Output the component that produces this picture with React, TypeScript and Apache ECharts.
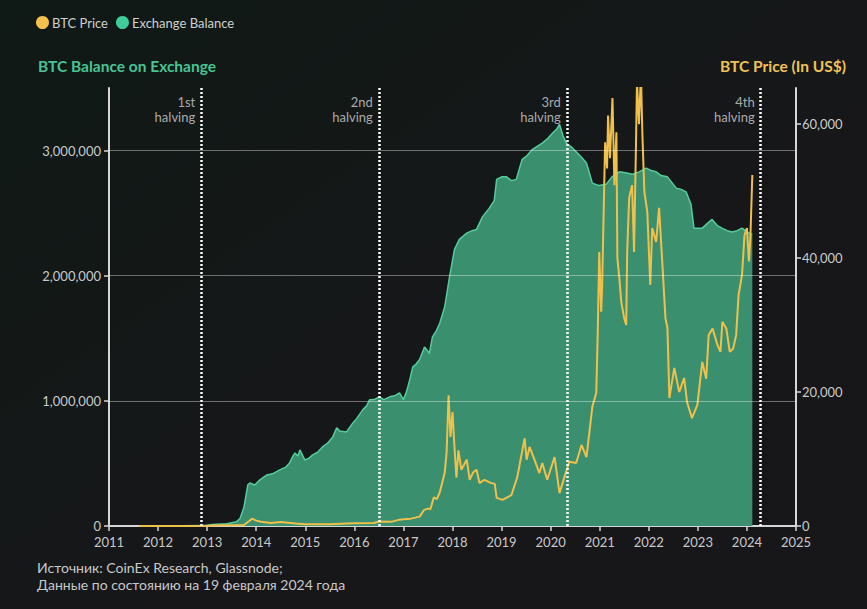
import React, { useEffect, useRef } from "react";
import * as echarts from "echarts";

// ---- data ----
const balanceYears = [
  2011.62, 2012.5, 2012.95, 2013.1, 2013.4, 2013.6, 2013.67, 2013.75, 2013.83, 2013.87, 2013.97,
  2014.05, 2014.13, 2014.22, 2014.35, 2014.48, 2014.6, 2014.68, 2014.75, 2014.79, 2014.85, 2014.89,
  2014.99, 2015.07, 2015.15, 2015.25, 2015.35, 2015.45, 2015.56, 2015.64, 2015.7, 2015.84, 2015.97,
  2016.05, 2016.17, 2016.25, 2016.31, 2016.4, 2016.51, 2016.6, 2016.72, 2016.82, 2016.92, 2017.0,
  2017.06, 2017.13, 2017.19, 2017.25, 2017.33, 2017.43, 2017.53, 2017.59, 2017.67, 2017.74, 2017.84,
  2017.94, 2018.04, 2018.14, 2018.29, 2018.4, 2018.49, 2018.61, 2018.75, 2018.85, 2018.9, 2019.0,
  2019.1, 2019.2, 2019.3, 2019.42, 2019.52, 2019.63, 2019.75, 2019.83, 2019.95, 2020.04, 2020.12,
  2020.18, 2020.25, 2020.32, 2020.42, 2020.52, 2020.62, 2020.73, 2020.85, 2020.99, 2021.13, 2021.25,
  2021.4, 2021.55, 2021.66, 2021.8, 2021.95, 2022.05, 2022.15, 2022.25, 2022.38, 2022.48, 2022.56,
  2022.66, 2022.76, 2022.86, 2022.92, 2023.09, 2023.2, 2023.29, 2023.4, 2023.49, 2023.6, 2023.7,
  2023.8, 2023.9, 2024.0, 2024.11,
];
const balanceValues = [
  0, 1000, 3000, 12000, 18000, 35000, 60000, 150000, 330000, 344000, 328000,
  360000, 384000, 408000, 420000, 448000, 470000, 504000, 560000, 584000, 560000, 608000,
  528000, 540000, 568000, 590000, 632000, 660000, 712000, 784000, 760000, 752000, 824000,
  860000, 928000, 960000, 1008000, 1010000, 1032000, 1010000, 1032000, 1040000, 1064000, 1010000,
  1070000, 1170000, 1272000, 1290000, 1330000, 1430000, 1380000, 1510000, 1560000, 1620000, 1750000,
  1990000, 2210000, 2290000, 2340000, 2360000, 2370000, 2470000, 2540000, 2600000, 2770000, 2790000,
  2790000, 2760000, 2770000, 2930000, 2960000, 3010000, 3040000, 3060000, 3100000, 3140000, 3170000,
  3210000, 3120000, 3060000, 3030000, 2990000, 2950000, 2900000, 2740000, 2720000, 2730000, 2790000,
  2830000, 2820000, 2810000, 2830000, 2860000, 2840000, 2830000, 2800000, 2790000, 2740000, 2700000,
  2690000, 2670000, 2570000, 2380000, 2380000, 2420000, 2450000, 2400000, 2380000, 2360000, 2350000,
  2360000, 2380000, 2350000, 2330000,
];

const priceYears = [
  2011.62, 2012.0, 2012.5, 2012.9, 2013.3, 2013.5, 2013.75, 2013.85, 2013.92, 2014.0, 2014.1,
  2014.3, 2014.5, 2014.8, 2015.0, 2015.5, 2015.85, 2016.0, 2016.4, 2016.5, 2016.75, 2016.92,
  2017.0, 2017.15, 2017.33, 2017.42, 2017.5, 2017.55, 2017.62, 2017.68, 2017.74, 2017.84, 2017.88,
  2017.92, 2017.96, 2018.0, 2018.04, 2018.08, 2018.12, 2018.18, 2018.29, 2018.35, 2018.42, 2018.49,
  2018.55, 2018.65, 2018.79, 2018.86, 2018.9, 2019.02, 2019.2, 2019.32, 2019.47, 2019.51, 2019.57,
  2019.67, 2019.77, 2019.83, 2019.93, 2020.08, 2020.18, 2020.28, 2020.38, 2020.52, 2020.63, 2020.73,
  2020.85, 2020.93, 2020.96, 2020.99, 2021.03, 2021.05, 2021.11, 2021.15, 2021.17, 2021.21, 2021.26,
  2021.3, 2021.34, 2021.36, 2021.4, 2021.44, 2021.5, 2021.54, 2021.56, 2021.6, 2021.66, 2021.7,
  2021.74, 2021.76, 2021.8, 2021.84, 2021.87, 2021.91, 2021.97, 2022.03, 2022.07, 2022.15, 2022.21,
  2022.27, 2022.34, 2022.38, 2022.42, 2022.52, 2022.62, 2022.72, 2022.78, 2022.88, 2022.99, 2023.09,
  2023.17, 2023.22, 2023.3, 2023.4, 2023.46, 2023.5, 2023.58, 2023.65, 2023.72, 2023.78, 2023.83,
  2023.9, 2023.95, 2024.0, 2024.04, 2024.07, 2024.11,
];
const priceValues = [
  10, 5, 7, 12, 100, 100, 150, 700, 1100, 800, 650,
  450, 600, 380, 250, 260, 380, 420, 450, 680, 620, 950,
  1000, 1100, 1400, 2400, 2600, 2500, 4300, 4000, 5000, 7900, 11000,
  19500, 13300, 17000, 11800, 7200, 11300, 8400, 9900, 6900, 8000, 8400,
  6400, 6900, 6400, 6300, 4200, 3900, 4600, 7300, 13100, 9900, 11800,
  9900, 7900, 9400, 6900, 10300, 4900, 7300, 9600, 9400, 12100, 10300,
  17800, 19900, 29000, 40900, 32000, 36000, 57300, 53400, 61300, 54900, 63900,
  50900, 58800, 40000, 37000, 33400, 31000, 30000, 40900, 49000, 50900, 40900,
  57300, 66500, 60000, 67500, 58400, 49900, 46900, 36000, 44500, 42400, 47500,
  40000, 31000, 29600, 19100, 23600, 20000, 22100, 18500, 16100, 18100, 24500,
  22000, 28500, 29500, 27000, 26000, 30500, 29500, 26000, 26500, 28500, 34500,
  37500, 43400, 44500, 39500, 43000, 52400,
];

const halvingYears = [2012.88, 2016.5, 2020.33, 2024.28];
const halvingLabels = ["1st\nhalving", "2nd\nhalving", "3rd\nhalving", "4th\nhalving"];
const halvingLabelLevel = 3330000;

const yearMin = 2011;
const yearMax = 2025;
const balanceTicks = [0, 1000000, 2000000, 3000000];
const balanceGridLines = [1000000, 2000000, 3000000];
const priceTicks = [0, 20000, 40000, 60000];
const balanceMax = 3500000;
const priceMax = 65400;

const FONT = 'Lato, "Noto Sans", sans-serif';
const AXIS_COLOR = "#d6d6d6";
const LABEL_COLOR = "#c9c9c9";

export default function App() {
  const ref = useRef<HTMLDivElement>(null);

  useEffect(() => {
    document.body.style.margin = "0";
    if (!ref.current) return;
    const chart = echarts.init(ref.current, undefined, { renderer: "svg" });

    const fmt = (v: number) => Number(v).toLocaleString("en-US");

    const option: any = {
      animation: false,
      backgroundColor: {
        type: "linear",
        x: 0,
        y: 0,
        x2: 0.6,
        y2: 0.6,
        colorStops: [
          { offset: 0, color: "#0f1915" },
          { offset: 1, color: "#171719" },
        ],
      },
      textStyle: { fontFamily: FONT },
      legend: {
        data: ["BTC Price", "Exchange Balance"],
        left: 31,
        top: 11,
        icon: "circle",
        itemWidth: 13,
        itemHeight: 13,
        itemGap: 8,
        itemStyle: { borderWidth: 0 },
        textStyle: { color: "#cfcfcf", fontSize: 13, fontFamily: FONT, padding: [0, 0, 0, -2] },
      },
      grid: { left: 109, right: 71, top: 88, bottom: 83 },
      xAxis: {
        type: "value",
        min: yearMin,
        max: yearMax,
        interval: 1,
        axisLine: { show: true, lineStyle: { color: AXIS_COLOR, width: 2 } },
        axisTick: { show: true, length: 5, lineStyle: { color: AXIS_COLOR, width: 1.5 } },
        axisLabel: { color: LABEL_COLOR, fontSize: 13, lineHeight: 13, margin: 9, formatter: (v: number) => String(v) },
        splitLine: { show: false },
      },
      yAxis: [
        {
          type: "value",
          position: "left",
          min: 0,
          max: balanceMax,
          axisLine: { show: true, lineStyle: { color: AXIS_COLOR, width: 2 } },
          axisTick: { show: true, length: 5, customValues: balanceTicks, lineStyle: { color: AXIS_COLOR, width: 1.5 } },
          axisLabel: { color: LABEL_COLOR, fontSize: 13, lineHeight: 12, margin: 8, customValues: balanceTicks, formatter: fmt },
          splitLine: { show: false },
        },
        {
          type: "value",
          position: "right",
          min: 0,
          max: priceMax,
          axisLine: { show: true, lineStyle: { color: AXIS_COLOR, width: 2 } },
          axisTick: { show: true, length: 5, customValues: priceTicks, lineStyle: { color: AXIS_COLOR, width: 1.5 } },
          axisLabel: { color: LABEL_COLOR, fontSize: 13, lineHeight: 12, margin: 6, customValues: priceTicks, formatter: fmt },
          splitLine: { show: false },
        },
      ],
      series: [
        {
          name: "Exchange Balance",
          type: "line",
          yAxisIndex: 0,
          showSymbol: false,
          symbol: "none",
          data: balanceYears.map((y, i) => [y, balanceValues[i]]),
          itemStyle: { color: "#3fcc9b" },
          lineStyle: { color: "#55cc9f", width: 1.5 },
          areaStyle: { color: "#3a8f6e", opacity: 1 },
          z: 2,
          markLine: {
            silent: true,
            symbol: "none",
            label: { show: false },
            lineStyle: { color: "rgba(255,255,255,0.38)", width: 1, type: "solid" },
            data: balanceGridLines.map((v) => ({ yAxis: v })),
          },
        },
        {
          name: "BTC Price",
          type: "line",
          yAxisIndex: 1,
          showSymbol: false,
          symbol: "none",
          clip: true,
          data: priceYears.map((y, i) => [y, priceValues[i]]),
          itemStyle: { color: "#f3c14c" },
          lineStyle: { color: "#f0c04c", width: 2 },
          z: 3,
        },
        {
          name: "halvings",
          type: "scatter",
          yAxisIndex: 0,
          symbolSize: 0,
          silent: true,
          data: halvingYears.map((y) => [y, halvingLabelLevel]),
          label: {
            show: true,
            position: "left",
            distance: 6,
            align: "right",
            color: "#d2d2d2",
            fontSize: 13,
            lineHeight: 15,
            fontFamily: FONT,
            formatter: (p: any) => halvingLabels[p.dataIndex],
          },
          z: 5,
          markLine: {
            silent: true,
            symbol: "none",
            label: { show: false },
            lineStyle: { color: "#ffffff", width: 2.5, type: [2, 2] },
            data: halvingYears.map((y) => ({ xAxis: y })),
          },
        },
      ],
      graphic: [
        {
          type: "text",
          left: 38,
          top: 58,
          style: { text: "BTC Balance on Exchange", fill: "#48c394", font: `bold 15.5px ${FONT}` },
        },
        {
          type: "text",
          right: 21,
          top: 58,
          style: { text: "BTC Price (In US$)", fill: "#efc257", font: `bold 15.5px ${FONT}` },
        },
        {
          type: "text",
          left: 37,
          top: 560,
          style: { text: "Источник: CoinEx Research, Glassnode;", fill: "#c8c8c8", font: `14px ${FONT}` },
        },
        {
          type: "text",
          left: 37,
          top: 577,
          style: { text: "Данные по состоянию на 19 февраля 2024 года", fill: "#c8c8c8", font: `14px ${FONT}` },
        },
      ],
    };

    chart.setOption(option);
    return () => chart.dispose();
  }, []);

  return <div ref={ref} style={{ width: 867, height: 609 }} />;
}
